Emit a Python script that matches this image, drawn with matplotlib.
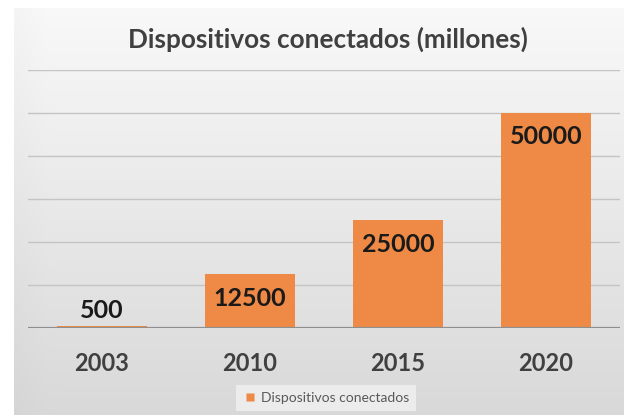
import numpy as np
import matplotlib
matplotlib.use("Agg")
import matplotlib.pyplot as plt
from matplotlib.lines import Line2D

categories = ["2003", "2010", "2015", "2020"]
values = [500, 12500, 25000, 50000]
series_name = "Dispositivos conectados"
title = "Dispositivos conectados (millones)"

W, H = 624, 415
fig = plt.figure(figsize=(W / 100, H / 100), dpi=100)
fig.patch.set_facecolor("white")

# gradient chart background
bg = fig.add_axes([14 / W, 0, (W - 14) / W, (H - 8) / H], zorder=-5)
grad = np.linspace(0, 1, 256)[:, None]
top = np.array([0.975, 0.975, 0.975])
bot = np.array([0.85, 0.85, 0.85])
img = top[None, None, :] * (1 - grad[:, :, None]) + bot[None, None, :] * grad[:, :, None]
hgrad = np.linspace(0, 1, 64)[None, :, None]
img = img * (0.985 + 0.015 * np.minimum(hgrad * 20, 1))
bg.imshow(img, aspect="auto", extent=[0, 1, 0, 1], interpolation="bilinear")
bg.set_axis_off()

FONT = "Lato"
ax = fig.add_axes([28 / W, (H - 328) / H, 592 / W, 258 / H])
ax.set_facecolor("none")
x = np.arange(len(categories))
ax.bar(x, values, width=0.61, color="#EE8A46", zorder=3)
ax.set_xlim(-0.5, len(categories) - 0.5)
ax.set_ylim(0, 60000)
ax.set_yticks(np.arange(10000, 60001, 10000))
ax.yaxis.grid(True, color="#c4c4c4", linewidth=1.0, zorder=0)
ax.axhline(0, color="#8f8f8f", linewidth=1.6, zorder=4)
for s in ax.spines.values():
    s.set_visible(False)
ax.tick_params(axis="y", left=False, labelleft=False)
ax.tick_params(axis="x", bottom=False, pad=14)
ax.set_xticks(x)
ax.set_xticklabels(categories, fontsize=17, fontweight="bold", color="#404040", family=FONT)

for xi, v in zip(x, values):
    if v < 5000:
        ax.annotate(str(v), (xi, v), xytext=(0, 15), textcoords="offset pixels",
                    ha="center", va="center", fontsize=18, fontweight="bold",
                    color="#1a1a1a", family=FONT, zorder=5)
    else:
        ax.annotate(str(v), (xi, v), xytext=(0, -24), textcoords="offset pixels",
                    ha="center", va="center", fontsize=18, fontweight="bold",
                    color="#1a1a1a", family=FONT, zorder=5)

fig.text(328 / W, 1 - 39 / H, title, ha="center", va="center", fontsize=18.8,
         fontweight="bold", color="#404040", family=FONT)

handle = Line2D([], [], marker="s", linestyle="none", markersize=6,
                markerfacecolor="#EE8A46", markeredgecolor="none")
leg = fig.legend([handle], [series_name], loc="center",
                 bbox_to_anchor=(326 / W, 1 - 398 / H), frameon=True,
                 facecolor="#ececec", edgecolor="none", framealpha=1,
                 fancybox=False, handletextpad=0.3, handlelength=1.0,
                 prop={"family": FONT, "size": 10}, borderpad=0.5)
for t in leg.get_texts():
    t.set_color("#595959")

fig.savefig("out.png", dpi=100)
